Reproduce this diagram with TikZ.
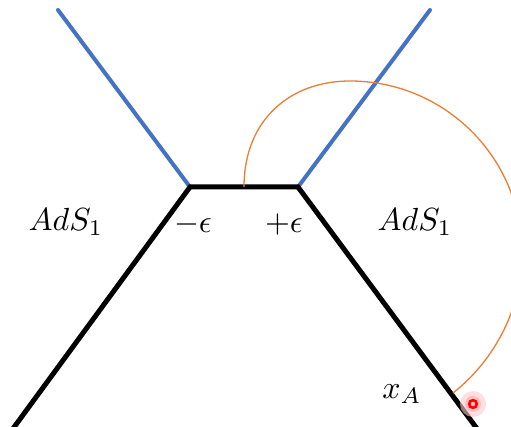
\documentclass[tikz,border=0pt]{standalone}
\usepackage{amsmath}

\definecolor{wallblue}{RGB}{68,114,196}
\definecolor{arcorange}{RGB}{237,125,49}

\tikzset{
    brane/.style={line width=5pt, line join=miter},
    wall/.style={wallblue, line width=4pt, line cap=round},
    geod/.style={arcorange, line width=1.3pt},
    lbl/.style={scale=3.2}
}

\begin{document}
\begin{tikzpicture}[x=1pt,y=-1pt]
    \useasboundingbox (0,0) rectangle (511,427);
	\coordinate (L) at (190,187);
	\coordinate (R) at (298,187);
	\coordinate (mid) at (244,187);
	\coordinate (top) at (350,81);
	\coordinate (xA) at (453,393);

    % the two blue walls
    \draw[wall] (L) -- (58,10);
    \draw[wall] (R) -- (430,10);

    % brane: AdS pieces glued by the short segment
    \draw[brane] (12,430) -- (L) -- (R) -- (478,430);

    % geodesic from the middle down to x_A (runs off the right edge)
    \draw[geod] (mid) .. controls (244,120) and (290,81) .. (top)
        .. controls (445,81) and (522,158) .. (522,253)
        .. controls (522,307) and (496,359) .. (xA);

    \node[lbl] at (66,222) {$AdS_1$};
    \node[lbl] at (415,222) {$AdS_1$};
    \node[lbl] at (193,225) {$-\epsilon$};
    \node[lbl] at (284,225) {$+\epsilon$};
    \node[lbl] at (402,394) {$x_A$};

    % marker at x_A
    \fill[red!20, opacity=0.6] (473,404) circle (13);
    \fill[red!35, opacity=0.6] (473,404) circle (8);
    \draw[red, line width=2.6pt] (473,404) circle (3.8);
\end{tikzpicture}
\end{document}
